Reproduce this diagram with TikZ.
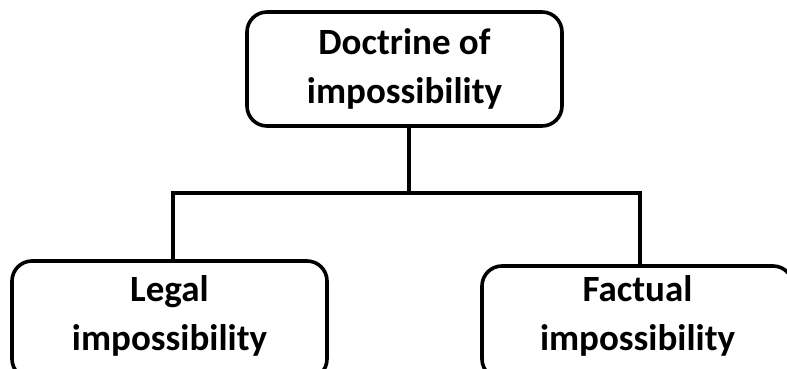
\documentclass[tikz,border=0pt]{standalone}
\usepackage{fontspec}
\setmainfont{Carlito}
\begin{document}
\begin{tikzpicture}[x=1pt,y=-1pt,
  box/.style={draw=black, line width=3.6pt, rounded corners=20pt, fill=white,
    inner sep=0pt},
  txt/.style={align=center, inner sep=0pt,
    font=\fontsize{37}{49}\selectfont\bfseries},
  conn/.style={draw=black, line width=3.6pt}]
\useasboundingbox[fill=white] (0,0) rectangle (787,369);
\node[box, minimum width=315pt, minimum height=114pt] (top) at (404.5,69) {};
\node[txt] (toptext) at (top.center) {Doctrine of\\impossibility};
\node[box, minimum width=315pt, minimum height=118pt] (left) at (169.5,320) {};
\node[txt] (lefttext) at (169.5,316) {Legal\\impossibility};
\node[box, minimum width=311pt, minimum height=113pt] (right) at (637.5,322.5) {};
\node[txt] (righttext) at (637.5,316) {Factual\\impossibility};
\coordinate (jm) at (409,193);
\coordinate (jl) at (173,193);
\coordinate (jr) at (640,193);
\draw[conn] (top.south -| jm) -- (jm);
\draw[conn, line cap=rect] (jl) -- (jr);
\draw[conn] (jl) -- (jl |- left.north);
\draw[conn] (jr) -- (jr |- right.north);
\end{tikzpicture}
\end{document}
